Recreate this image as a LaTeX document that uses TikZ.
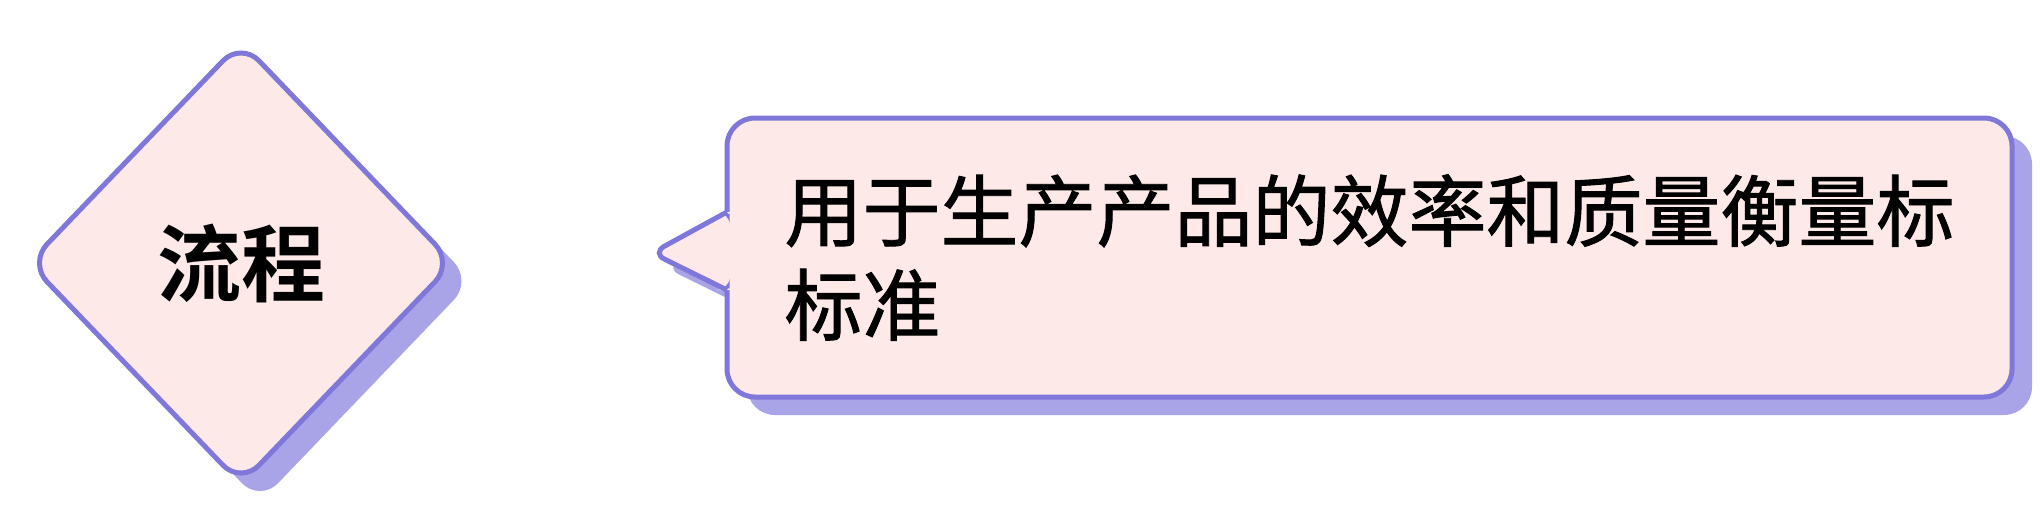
\documentclass[tikz,border=0pt]{standalone}
\usepackage{fontspec}
\newfontfamily\cjk{Noto Sans CJK SC}[FakeBold=1.2]
\newfontfamily\cjkdam{Noto Sans CJK SC Bold}
\usepackage{tikz}
\usetikzlibrary{shapes.geometric, shadows, backgrounds}
\definecolor{vientim}{HTML}{7F77D9}
\definecolor{bongtim}{HTML}{A9A3E8}
\definecolor{nenhong}{HTML}{FDEAE8}
\tikzstyle{thoi1}=
[
	diamond
	,minimum width=424pt
	,minimum height=442pt
	,rounded corners=26pt
	,outer sep=0pt
	,line width=5pt
	,draw=vientim
	,fill=nenhong
	,drop shadow={shadow xshift=19pt, shadow yshift=-18pt, fill=bongtim, opacity=1}
	,font=\cjkdam\fontsize{84pt}{100pt}\selectfont
]
\tikzstyle{hop1}= 
[	
	rectangle
	, minimum width=1285pt
	, minimum height=279pt
	, rounded corners=28pt
	, outer sep=0pt
	, line width=5pt
	, draw=vientim
	, fill=nenhong
	, align=left
	, drop shadow={shadow xshift=20pt, shadow yshift=-18pt, fill=bongtim, opacity=1}
	, font=\cjk\fontsize{78pt}{94pt}\selectfont
]
\tikzstyle{duoi} = [fill=nenhong, rounded corners=14pt]
\tikzstyle{duoibong} = [fill=bongtim, rounded corners=14pt]
\tikzstyle{vien} = [line width=5pt, draw=vientim, rounded corners=14pt]

\begin{document}
\begin{tikzpicture}[node distance=1128.5pt]
\useasboundingbox (0,0) rectangle (2040pt,-512pt);

\coordinate (tamthoi) at (241pt,-263pt);
\node(thoi)[thoi1] at (tamthoi){流程};
\coordinate (tamhop) at ([yshift=5.5pt]tamthoi);
\node(hop)[hop1, right of=tamhop]{用于生产产品的效率和质量衡量标\\标准};

\coordinate (dinh1) at ([yshift=45.5pt]hop.west);
\coordinate (mui) at ([xshift=-75pt, yshift=4.5pt]hop.west);
\coordinate (dinh2) at ([yshift=-32.5pt]hop.west);

\begin{scope}[on background layer]
\fill[duoibong]([shift={(14pt,-15pt)}]dinh1)--([shift={(14pt,-15pt)}]mui)--([shift={(14pt,-15pt)}]dinh2)--cycle;
\end{scope}
\fill[duoi]([xshift=3pt]dinh1)--(dinh1)--(mui)--(dinh2)--([xshift=3pt]dinh2)--cycle;
\draw[vien](dinh1)--(mui)--(dinh2);

\end{tikzpicture}
\end{document}
